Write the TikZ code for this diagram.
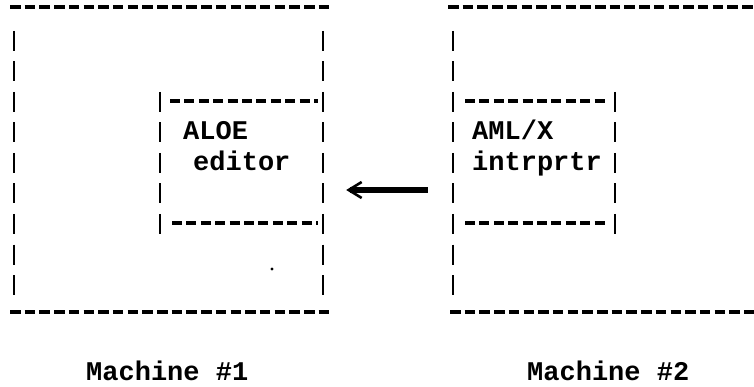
\documentclass[tikz,border=0pt]{standalone}
\usepackage{fontspec}
\setmonofont{Liberation Mono}
\usetikzlibrary{arrows.meta}
\begin{document}
\begin{tikzpicture}[x=1pt,y=-1pt,
  outerdash/.style={line width=3.2pt, dash pattern=on 10.5pt off 4.2pt},
  innerdash/.style={line width=3.2pt, dash pattern=on 10pt off 4.4pt},
  bars/.style={line width=2.4pt, dash pattern=on 20pt off 10.5pt},
  txt/.style={font=\ttfamily\bfseries\fontsize{27}{30}\selectfont, inner sep=0pt, anchor=base west},
  box/.style={draw=none, inner sep=0pt, minimum height=142pt},
  conn/.style={line width=6pt, -{Straight Barb[length=13pt,width=16pt,line width=2.6pt]},
    shorten <=25pt, shorten >=23pt}
]
\useasboundingbox (0,0) rectangle (754,387);

% Machine 1 (outer box)
\draw[outerdash] (10,7) -- (330,7);
\draw[outerdash] (10,312) -- (332,312);
\draw[bars] (14,31) -- (14,295);
\draw[bars] (323,31) -- (323,295);
% inner box 1
\node[box, minimum width=163pt] (in1) at (241.5,163) {};
\draw[bars] (160,92) -- (160,234);
\draw[innerdash] (170,101) -- (318,101);
\draw[innerdash] (172,223) -- (318,223);
\node[txt] (t1) at (183,140) {ALOE};
\node[txt] (t2) at (193,171) {editor};
\fill (272,269) circle (1.6pt);

% Machine 2 (outer box)
\draw[outerdash] (448,7) -- (760,7);
\draw[outerdash] (450,312) -- (760,312);
\draw[bars] (453,31) -- (453,295);
% inner box 2
\node[box, minimum width=162pt] (in2) at (534,163) {};
\draw[bars] (615,92) -- (615,234);
\draw[innerdash] (465,101) -- (607,101);
\draw[innerdash] (465,223) -- (607,223);
\node[txt] (t3) at (472,140) {AML/X};
\node[txt] (t4) at (472,171) {intrprtr};

% connector
\draw[conn] ([yshift=-27pt]in2.west) -- ([yshift=-27pt]in1.east);

% labels
\node[txt] (l1) at (86,380) {Machine \#1};
\node[txt] (l2) at (527,380) {Machine \#2};
\end{tikzpicture}
\end{document}
